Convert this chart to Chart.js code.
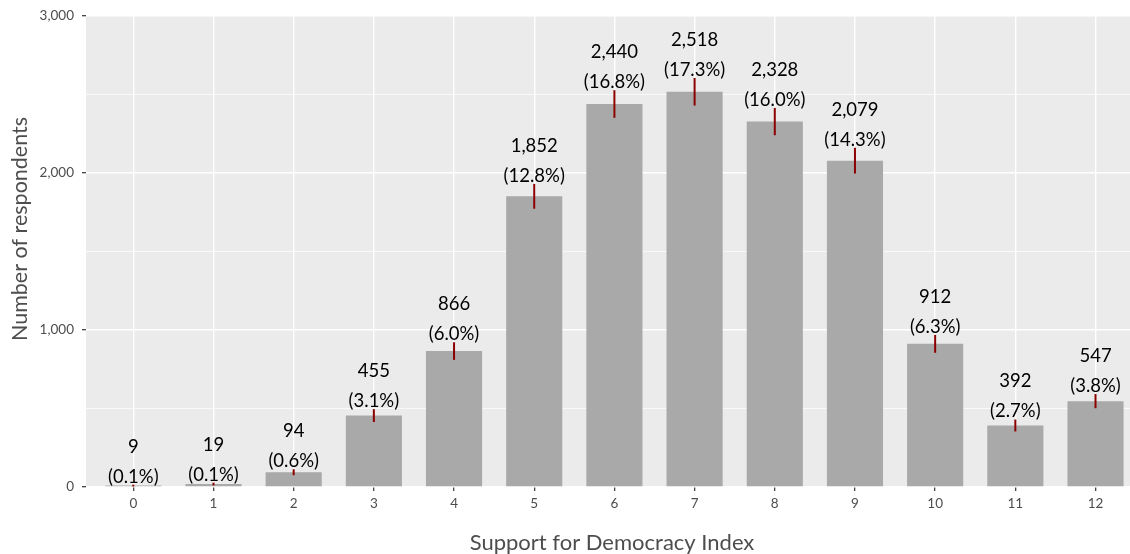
<!DOCTYPE html>
<html>
<head>
<meta charset="utf-8">
<script src="https://cdn.jsdelivr.net/npm/chart.js@4"></script>
<style>
  html, body { margin: 0; padding: 0; background: #ffffff; overflow: hidden; }
  #chart { display: block; }
</style>
</head>
<body>
<canvas id="chart" width="1130" height="554"></canvas>
<script>
// Support for Democracy Index: respondents per score
const categories = [0, 1, 2, 3, 4, 5, 6, 7, 8, 9, 10, 11, 12];
const respondents = [9, 19, 94, 455, 866, 1852, 2440, 2518, 2328, 2079, 912, 392, 547];
const percents = [0.1, 0.1, 0.6, 3.1, 6.0, 12.8, 16.8, 17.3, 16.0, 14.3, 6.3, 2.7, 3.8];
// half-width of the interval drawn on each bar (respondents)
const margins = [6, 9, 19, 41, 56, 79, 88, 88, 87, 82, 57, 38, 45];
const yTicks = [0, 500, 1000, 1500, 2000, 2500, 3000];

const FONT = "Lato, 'Open Sans', sans-serif";
const PANEL_BG = '#ebebeb';
const AXIS_GREY = '#4d4d4d';

const panelBackground = {
  id: 'panelBackground',
  beforeDraw(chart) {
    const { ctx, chartArea: a } = chart;
    ctx.save();
    ctx.fillStyle = PANEL_BG;
    ctx.fillRect(a.left, a.top, a.right - a.left, a.bottom - a.top);
    ctx.restore();
  }
};

const intervalsAndLabels = {
  id: 'intervalsAndLabels',
  afterDatasetsDraw(chart) {
    const { ctx } = chart;
    const xs = chart.scales.x, ys = chart.scales.y;
    ctx.save();
    // interval lines
    ctx.strokeStyle = '#8b0000';
    ctx.lineWidth = 2;
    categories.forEach((c, i) => {
      const x = xs.getPixelForValue(c);
      ctx.beginPath();
      ctx.moveTo(x, ys.getPixelForValue(Math.max(0, respondents[i] - margins[i])));
      ctx.lineTo(x, ys.getPixelForValue(respondents[i] + margins[i]));
      ctx.stroke();
    });
    // count and share labels
    ctx.fillStyle = '#000000';
    ctx.font = `18.5px ${FONT}`;
    ctx.textAlign = 'center';
    ctx.textBaseline = 'middle';
    categories.forEach((c, i) => {
      const x = xs.getPixelForValue(c);
      const yTop = ys.getPixelForValue(respondents[i] + margins[i]);
      ctx.fillText('(' + percents[i].toFixed(1) + '%)', x, yTop - 8);
      ctx.fillText(respondents[i].toLocaleString('en-US'), x, yTop - 38);
    });
    ctx.restore();
  }
};

const axisTitles = {
  id: 'axisTitles',
  afterDraw(chart) {
    const { ctx } = chart;
    ctx.save();
    ctx.fillStyle = AXIS_GREY;
    ctx.textAlign = 'center';
    ctx.textBaseline = 'middle';
    ctx.font = `22px ${FONT}`;
    ctx.fillText('Support for Democracy Index', 612, 543);
    ctx.font = `21.5px ${FONT}`;
    ctx.translate(20, 229);
    ctx.rotate(-Math.PI / 2);
    ctx.fillText('Number of respondents', 0, 0);
    ctx.restore();
  }
};

new Chart(document.getElementById('chart'), {
  type: 'bar',
  data: {
    datasets: [{
      data: categories.map((c, i) => ({ x: c, y: respondents[i] })),
      backgroundColor: '#a9a9a9',
      borderWidth: 0,
      barPercentage: 0.7,
      categoryPercentage: 1.0
    }]
  },
  options: {
    responsive: false,
    animation: false,
    devicePixelRatio: 1,
    layout: { padding: { top: 15, left: 0, right: 0, bottom: 0 } },
    plugins: { legend: { display: false }, tooltip: { enabled: false } },
    scales: {
      x: {
        type: 'linear',
        min: -0.59,
        max: 12.43,
        offset: false,
        afterBuildTicks(scale) { scale.ticks = categories.map(v => ({ value: v })); },
        afterFit(scale) { scale.height = 67; },
        border: { display: false },
        grid: {
          offset: false,
          color: '#ffffff',
          lineWidth: 1.4,
          drawTicks: true,
          tickLength: 4,
          tickColor: '#333333',
          tickWidth: 1.2
        },
        ticks: {
          color: AXIS_GREY,
          font: { family: FONT, size: 13.5 },
          padding: 5,
          maxRotation: 0,
          callback: v => String(v)
        }
      },
      y: {
        min: 0,
        max: 3000,
        afterBuildTicks(scale) { scale.ticks = yTicks.map(v => ({ value: v })); },
        afterFit(scale) { scale.width = 86; },
        border: { display: false },
        grid: {
          color: '#ffffff',
          lineWidth: ctx => (ctx.tick && ctx.tick.value % 1000 === 0) ? 1.4 : 0.7,
          drawTicks: true,
          tickLength: 4,
          tickColor: ctx => (ctx.tick && ctx.tick.value % 1000 === 0) ? '#333333' : 'rgba(0,0,0,0)',
          tickWidth: 1.2
        },
        ticks: {
          color: AXIS_GREY,
          font: { family: FONT, size: 13.5 },
          padding: 8,
          callback: v => (v % 1000 === 0 ? v.toLocaleString('en-US') : '')
        }
      }
    }
  },
  plugins: [panelBackground, intervalsAndLabels, axisTitles]
});
</script>
</body>
</html>
